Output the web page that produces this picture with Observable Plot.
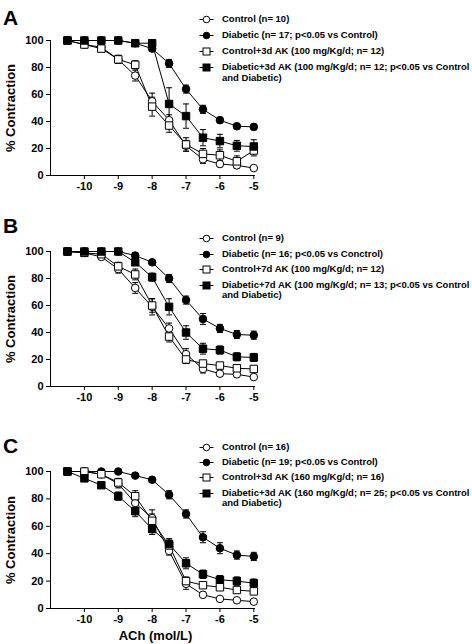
<!DOCTYPE html>
<html>
<head>
<meta charset="utf-8">
<script src="https://cdn.jsdelivr.net/npm/d3@7"></script>
<script src="https://cdn.jsdelivr.net/npm/@observablehq/plot@0.6"></script>
<style>
  html, body { margin: 0; padding: 0; background: #fff; }
  #root { position: relative; width: 472px; height: 644px; overflow: hidden; font-family: "Liberation Sans", Arial, sans-serif; color: #000; }
  .letter { position: absolute; left: 3px; font-size: 21px; line-height: 21px; font-weight: bold; }
  .panel { position: absolute; left: 0; }
  .lg { position: absolute; left: 199px; font-size: 9.5px; line-height: 10.5px; font-weight: bold; white-space: pre; }
  .lg svg { position: absolute; left: 0; top: 0; }
  .lg span { position: absolute; left: 23px; top: 0; }
</style>
</head>
<body>
<div id="root"></div>
<script>
// ---- shared axes ----
const conc = [-10.5, -10, -9.5, -9, -8.5, -8, -7.5, -7, -6.5, -6, -5.5, -5];
const xTicks = [-10, -9, -8, -7, -6, -5];
const yTicks = [0, 20, 40, 60, 80, 100];
const panelLetters = ["A", "B", "C"];
const xLabel = "ACh (mol/L)";
const yLabel = "% Contraction";

// ---- Panel A ----
const aControl      = [100, 97, 95, 86, 74, 55, 41, 22, 12, 8.5, 7.5, 5.5];
const aControlSem   = [0, 1, 2, 3, 4, 6, 4, 4, 3, 2, 2, 1];
const aDiabetic     = [100, 100, 100, 100, 98, 94, 83, 64, 49, 41, 36.5, 36];
const aDiabeticSem  = [0, 0, 0, 0, 1, 1, 3, 3, 3, 2, 2, 2];
const aCtrlAK       = [100, 97, 94, 86, 82, 51, 37, 23, 16, 15, 10.5, 18.5];
const aCtrlAKSem    = [0, 1, 2, 3, 3, 7, 5, 5, 4, 4, 4, 4];
const aDiabAK       = [100, 100, 100, 100, 98, 98, 53, 44, 28, 25.5, 22, 21.5];
const aDiabAKSem    = [0, 0, 0, 0, 1, 2, 12, 9, 6, 5, 4, 5];
const aLegend = [
  "Control (n= 10)",
  "Diabetic (n= 17; p<0.05 vs Control)",
  "Control+3d AK (100 mg/Kg/d; n= 12)",
  "Diabetic+3d AK (100 mg/Kg/d; n= 12; p<0.05 vs Control\nand Diabetic)"
];

// ---- Panel B ----
const bControl      = [100, 99, 96, 87, 73, 59, 43, 24, 13, 9.5, 9, 7];
const bControlSem   = [0, 1, 2, 3, 4, 6, 4, 4, 3, 2, 1, 1];
const bDiabetic     = [100, 100, 100, 100, 97, 92, 80, 64, 50, 43, 38.5, 38];
const bDiabeticSem  = [0, 0, 0, 1, 2, 1, 3, 3, 4, 3, 3, 3];
const bCtrlAK       = [100, 99, 98, 89, 83, 60, 37, 20, 17, 15.5, 13.5, 13];
const bCtrlAKSem    = [0, 1, 1, 3, 4, 5, 4, 3, 2, 2, 2, 2];
const bDiabAK       = [100, 100, 100, 100, 92, 81, 59, 40, 28, 27, 22, 21.5];
const bDiabAKSem    = [0, 0, 0, 1, 2, 3, 6, 5, 4, 3, 3, 3];
const bLegend = [
  "Control (n= 9)",
  "Diabetic (n= 16; p<0.05 vs Conctrol)",
  "Control+7d AK (100 mg/Kg/d; n= 12)",
  "Diabetic+7d AK (100 mg/Kg/d; n= 13; p<0.05 vs Control\nand Diabetic)"
];

// ---- Panel C ----
const cControl      = [100, 100, 98, 91, 77, 66, 42, 18, 10, 7, 6, 5];
const cControlSem   = [0, 1, 1, 3, 4, 6, 3, 4, 2, 1, 1, 1];
const cDiabetic     = [100, 100, 100, 100, 97, 94, 83, 69, 52, 44, 39, 38];
const cDiabeticSem  = [0, 0, 0, 1, 1, 1, 3, 3, 4, 4, 3, 3];
const cCtrlAK       = [100, 100, 98, 92, 82, 64, 46, 20, 17, 15.5, 13.5, 12.5];
const cCtrlAKSem    = [0, 1, 1, 3, 4, 5, 4, 3, 2, 2, 2, 2];
const cDiabAK       = [100, 95, 90, 82, 71, 58, 47, 33, 25, 21, 20, 18.5];
const cDiabAKSem    = [0, 1, 1, 3, 4, 4, 4, 4, 3, 3, 3, 3];
const cLegend = [
  "Control (n= 16)",
  "Diabetic (n= 19; p<0.05 vs Control)",
  "Control+3d AK (160 mg/Kg/d; n= 16)",
  "Diabetic+3d AK (160 mg/Kg/d; n= 25; p<0.05 vs Control\nand Diabetic)"
];

// series styles: [symbol, fill]
const seriesStyle = [
  {symbol: "circle", fill: "white"},
  {symbol: "circle", fill: "black"},
  {symbol: "square", fill: "white"},
  {symbol: "square", fill: "black"}
];

const capSymbol = {
  draw(context, size) {
    const w = Math.sqrt(size / Math.PI);
    context.moveTo(-w, 0);
    context.lineTo(w, 0);
  }
};

const panels = [
  {letter: panelLetters[0], values: [aControl, aDiabetic, aCtrlAK, aDiabAK], sems: [aControlSem, aDiabeticSem, aCtrlAKSem, aDiabAKSem], legend: aLegend,
   svgTop: 30, plotH: 135, letterTop: 7.3, rows: [19, 35.3, 51.3, 67.7], showX: false},
  {letter: panelLetters[1], values: [bControl, bDiabetic, bCtrlAK, bDiabAK], sems: [bControlSem, bDiabeticSem, bCtrlAKSem, bDiabAKSem], legend: bLegend,
   svgTop: 241, plotH: 135, letterTop: 215.3, rows: [238.5, 254, 269.5, 285], showX: false},
  {letter: panelLetters[2], values: [cControl, cDiabetic, cCtrlAK, cDiabAK], sems: [cControlSem, cDiabeticSem, cCtrlAKSem, cDiabAKSem], legend: cLegend,
   svgTop: 461, plotH: 137, letterTop: 435.3, rows: [447, 462, 477.5, 493], showX: true}
];

const root = document.getElementById("root");

for (const p of panels) {
  const data = p.values.flatMap((vals, s) => conc.map((x, i) => ({x, y: vals[i], e: p.sems[s][i], s})));
  const bars = data.filter(d => d.e > 0);
  const marginTop = 10, marginBottom = p.showX ? 40 : 25;
  const marks = [
    Plot.ruleY([0], {stroke: "black", strokeWidth: 1}),
    Plot.ruleX([-11], {stroke: "black", strokeWidth: 1}),
    Plot.axisX({ticks: xTicks, tickSize: 4, tickPadding: 3, label: null, fontSize: 11, fontWeight: "bold", tickFormat: d => String(d)}),
    Plot.axisY({ticks: yTicks, tickSize: 4, tickPadding: 3, label: null, fontSize: 11, fontWeight: "bold"}),
    Plot.text([yLabel], {text: d => d, frameAnchor: "left", rotate: -90, dx: -40, textAnchor: "middle", lineAnchor: "middle", fontSize: 13, fontWeight: "bold"})
  ];
  if (p.showX) {
    marks.push(Plot.text([xLabel], {text: d => d, frameAnchor: "bottom", dx: 2.5, dy: 27.7, textAnchor: "middle", lineAnchor: "middle", fontSize: 13, fontWeight: "bold"}));
  }
  for (let s = 0; s < 4; s++) {
    marks.push(Plot.line(data.filter(d => d.s === s), {x: "x", y: "y", stroke: "black", strokeWidth: 1}));
  }
  marks.push(Plot.ruleX(bars, {x: "x", y1: d => d.y - d.e, y2: d => d.y + d.e, stroke: "black", strokeWidth: 1}));
  marks.push(Plot.dot(bars, {x: "x", y: d => d.y - d.e, symbol: capSymbol, r: 3, stroke: "black", strokeWidth: 1, fill: "none"}));
  marks.push(Plot.dot(bars, {x: "x", y: d => d.y + d.e, symbol: capSymbol, r: 3, stroke: "black", strokeWidth: 1, fill: "none"}));
  for (let s = 0; s < 4; s++) {
    const st = seriesStyle[s];
    marks.push(Plot.dot(data.filter(d => d.s === s), {
      x: "x", y: "y", symbol: st.symbol, r: st.symbol === "square" ? 4.2 : 3.8,
      fill: st.fill, stroke: "black", strokeWidth: 1
    }));
  }
  const chart = Plot.plot({
    width: 265, height: marginTop + p.plotH + marginBottom,
    marginTop, marginBottom, marginLeft: 50, marginRight: 10,
    x: {domain: [-11, -4.95]},
    y: {domain: [0, 100]},
    style: {fontFamily: "'Liberation Sans', Arial, sans-serif", color: "black", background: "transparent", overflow: "visible"},
    marks
  });
  const wrap = document.createElement("div");
  wrap.className = "panel";
  wrap.style.top = p.svgTop + "px";
  wrap.appendChild(chart);
  root.appendChild(wrap);

  const letter = document.createElement("div");
  letter.className = "letter";
  letter.style.top = p.letterTop + "px";
  letter.textContent = p.letter;
  root.appendChild(letter);

  p.legend.forEach((label, s) => {
    const st = seriesStyle[s];
    const item = document.createElement("div");
    item.className = "lg";
    item.style.top = (p.rows[s] - 5.25) + "px";
    const ns = "http://www.w3.org/2000/svg";
    const svg = document.createElementNS(ns, "svg");
    svg.setAttribute("width", 16); svg.setAttribute("height", 11);
    const ln = document.createElementNS(ns, "line");
    ln.setAttribute("x1", 0.5); ln.setAttribute("x2", 14.5); ln.setAttribute("y1", 5.5); ln.setAttribute("y2", 5.5);
    ln.setAttribute("stroke", "black");
    svg.appendChild(ln);
    let m;
    if (st.symbol === "circle") {
      m = document.createElementNS(ns, "circle");
      m.setAttribute("cx", 7.5); m.setAttribute("cy", 5.5); m.setAttribute("r", 3.3);
    } else {
      m = document.createElementNS(ns, "rect");
      m.setAttribute("x", 4); m.setAttribute("y", 2); m.setAttribute("width", 7); m.setAttribute("height", 7);
    }
    m.setAttribute("fill", st.fill); m.setAttribute("stroke", "black");
    svg.appendChild(m);
    item.appendChild(svg);
    const span = document.createElement("span");
    span.textContent = label;
    item.appendChild(span);
    root.appendChild(item);
  });
}
</script>
</body>
</html>
